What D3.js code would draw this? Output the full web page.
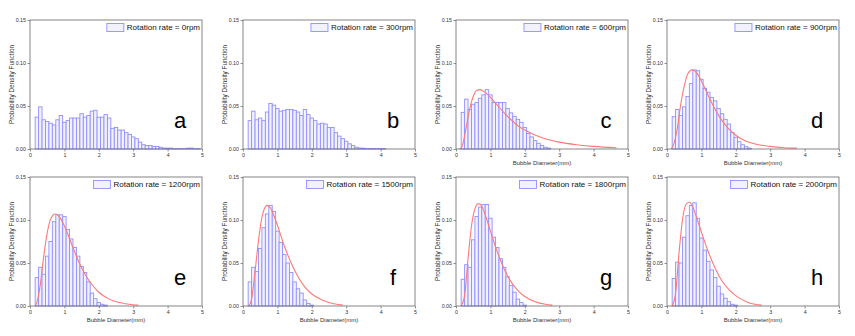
<!DOCTYPE html>
<html><head><meta charset="utf-8">
<script src="https://cdn.jsdelivr.net/npm/d3@7"></script>
<style>
html,body{margin:0;padding:0;background:#fff;}
svg{display:block;}
text{font-family:"Liberation Sans",Arial,sans-serif;}
</style></head>
<body><svg id="chart" width="855" height="336"></svg>
<script>
// ---- data ----
const panelLetters = ["a","b","c","d","e","f","g","h"];
const rotationRates = ["0rpm","300rpm","600rpm","900rpm","1200rpm","1500rpm","1800rpm","2000rpm"];
const xTicks = [0,1,2,3,4,5];
const yTicks = [0.00,0.05,0.10,0.15];
const binCenters = [0.2,0.3,0.4,0.5,0.6,0.7,0.8,0.9,1.0,1.1,1.2,1.3,1.4,1.5,1.6,1.7,1.8,1.9,2.0,2.1,2.2,2.3,2.4,2.5,2.6,2.7,2.8,2.9,3.0,3.1,3.2,3.3,3.4,3.5,3.6,3.7,3.8,3.9,4.0,4.1,4.2,4.3,4.4,4.5,4.6,4.7,4.8,4.9];
const binWidth = 0.1;

const pdfA = [0.037,0.049,0.034,0.032,0.030,0.028,0.034,0.039,0.031,0.033,0.036,0.036,0.036,0.041,0.037,0.039,0.044,0.045,0.037,0.037,0.040,0.036,0.024,0.025,0.022,0.022,0.019,0.017,0.014,0.012,0.008,0.005,0.004,0.004,0.003,0.003,0.002,0.001,0.001,0.001,0.0005,0.0005,0.0005,0.0005,0.001,0.001,0.0005,0.0005];
const pdfB = [0.033,0.044,0.034,0.036,0.033,0.043,0.053,0.051,0.047,0.044,0.045,0.046,0.046,0.045,0.043,0.039,0.046,0.040,0.036,0.033,0.029,0.030,0.029,0.025,0.025,0.019,0.015,0.012,0.009,0.006,0.004,0.002,0.001,0.001,0.0005,0.0005,0.0005,0.0005,0.0005,0.0005];
const pdfC = [0.0426,0.058,0.046,0.052,0.054,0.059,0.063,0.069,0.063,0.054,0.054,0.054,0.054,0.047,0.042,0.038,0.0345,0.031,0.025,0.018,0.014,0.0097,0.0066,0.004,0.002,0.001];
const pdfD = [0.0376,0.046,0.039,0.049,0.061,0.076,0.092,0.091,0.081,0.0705,0.066,0.060,0.056,0.047,0.041,0.0345,0.029,0.019,0.0136,0.0085,0.005,0.0027,0.001];
const pdfE = [0.033,0.045,0.037,0.058,0.075,0.098,0.106,0.106,0.104,0.089,0.078,0.068,0.058,0.046,0.039,0.028,0.015,0.0085,0.004,0.002,0.001];
const pdfF = [0.028,0.045,0.040,0.067,0.091,0.107,0.117,0.110,0.087,0.074,0.060,0.050,0.039,0.028,0.020,0.015,0.007,0.003,0.001];
const pdfG = [0.031,0.048,0.045,0.077,0.104,0.115,0.118,0.118,0.102,0.080,0.068,0.055,0.045,0.034,0.024,0.016,0.008,0.004,0.001];
const pdfH = [0.032,0.051,0.050,0.080,0.105,0.117,0.120,0.102,0.079,0.065,0.052,0.042,0.033,0.023,0.014,0.009,0.005,0.002,0.001];

const fitCX = [0.10,0.15,0.2,0.3,0.4,0.5,0.6,0.7,0.8,0.9,1.0,1.2,1.4,1.6,1.8,2.0,2.5,3.0,3.5,4.0,4.66];
const fitCY = [0,0.001,0.006,0.026,0.047,0.061,0.068,0.069,0.067,0.064,0.060,0.051,0.042,0.034,0.027,0.022,0.013,0.008,0.005,0.003,0.0015];
const fitDX = [0.12,0.2,0.3,0.4,0.5,0.6,0.73,0.85,1.0,1.2,1.4,1.6,1.8,2.0,2.3,2.6,3.0,3.4,3.77];
const fitDY = [0,0.006,0.024,0.052,0.073,0.087,0.092,0.089,0.079,0.062,0.046,0.033,0.023,0.016,0.009,0.0055,0.003,0.0015,0.001];
const fitEX = [0.15,0.2,0.3,0.4,0.5,0.6,0.73,0.85,1.0,1.2,1.4,1.6,1.8,2.0,2.3,2.6,3.0,3.15];
const fitEY = [0,0.004,0.025,0.058,0.085,0.101,0.107,0.104,0.093,0.073,0.053,0.037,0.025,0.016,0.008,0.004,0.0015,0.001];
const fitFX = [0.17,0.25,0.35,0.45,0.55,0.62,0.7,0.8,0.9,1.0,1.2,1.4,1.6,1.8,2.0,2.3,2.6,2.9];
const fitFY = [0,0.008,0.040,0.076,0.103,0.113,0.117,0.114,0.105,0.094,0.070,0.050,0.034,0.022,0.014,0.007,0.003,0.001];
const fitGX = [0.15,0.25,0.35,0.45,0.55,0.65,0.75,0.85,1.0,1.2,1.4,1.6,1.8,2.0,2.3,2.6,2.8];
const fitGY = [0,0.012,0.055,0.093,0.113,0.119,0.116,0.106,0.087,0.063,0.043,0.028,0.018,0.011,0.005,0.002,0.001];
const fitHX = [0.15,0.25,0.35,0.45,0.55,0.65,0.75,0.85,1.0,1.2,1.4,1.6,1.8,2.0,2.3,2.55,2.75];
const fitHY = [0,0.015,0.062,0.100,0.118,0.121,0.115,0.104,0.086,0.063,0.044,0.029,0.019,0.012,0.005,0.002,0.001];

const pdfs = [pdfA,pdfB,pdfC,pdfD,pdfE,pdfF,pdfG,pdfH];
const fitsX = [null,null,fitCX,fitDX,fitEX,fitFX,fitGX,fitHX];
const fitsY = [null,null,fitCY,fitDY,fitEY,fitFY,fitGY,fitHY];
const showXLabel = [false,false,true,true,true,true,true,true];

// ---- layout ----
const colLeft = [30,243,456,667];
const rowTop = [20,177];
const plotW = 172, plotH = 129;

const svg = d3.select("#chart");

pdfs.forEach((vals, i) => {
  const col = i % 4, row = Math.floor(i / 4);
  const L = colLeft[col], T = rowTop[row];
  const x = d3.scaleLinear().domain([0,5]).range([L, L+plotW]);
  const y = d3.scaleLinear().domain([0,0.15]).range([T+plotH, T]);
  const g = svg.append("g");

  // bars
  g.selectAll("rect.bar").data(vals).enter().append("rect")
    .attr("x", (d,j) => x(binCenters[j]-binWidth/2))
    .attr("width", (d,j) => x(binCenters[j]+binWidth/2) - x(binCenters[j]-binWidth/2))
    .attr("y", d => y(d))
    .attr("height", d => y(0) - y(d))
    .attr("fill", "#f1f1ff")
    .attr("stroke", "#9090ff")
    .attr("stroke-width", 0.9);

  // fit
  if (fitsX[i]) {
    const pts = fitsX[i].map((xv,k) => [xv, fitsY[i][k]]);
    g.append("path").datum(pts)
      .attr("d", d3.line().x(d => x(d[0])).y(d => y(d[1])).curve(d3.curveMonotoneX))
      .attr("fill","none").attr("stroke","#ff7878").attr("stroke-width",1.1);
  }

  // frame
  g.append("rect").attr("x", L).attr("y", T).attr("width", plotW).attr("height", plotH)
    .attr("fill","none").attr("stroke","#666").attr("stroke-width",0.8);

  // axes
  const ax = g.append("g").attr("transform", `translate(0,${T+plotH})`)
    .call(d3.axisBottom(x).tickValues(xTicks).tickSize(2.5).tickPadding(2).tickFormat(d3.format("d")));
  const ay = g.append("g").attr("transform", `translate(${L},0)`)
    .call(d3.axisLeft(y).tickValues(yTicks).tickSize(2.5).tickPadding(1.5).tickFormat(d3.format(".2f")));
  [ax, ay].forEach(a => {
    a.select(".domain").remove();
    a.selectAll("line").attr("stroke","#666").attr("stroke-width",0.7);
    a.selectAll("text").attr("font-size","5.3px").attr("fill","#333")
      .attr("font-family","'Liberation Sans',Arial,sans-serif");
  });

  // y label
  g.append("text")
    .attr("transform", `translate(${L-16},${T+plotH/2}) rotate(-90)`)
    .attr("text-anchor","middle").attr("font-size","6.4px").attr("fill","#333")
    .text("Probability Density Function");

  if (showXLabel[i]) {
    g.append("text").attr("x", L+plotW/2).attr("y", T+plotH+16)
      .attr("text-anchor","middle").attr("font-size","6px").attr("fill","#333")
      .text("Bubble Diameter(mm)");
  }

  // legend
  const lt = g.append("text").attr("x", L+plotW-2).attr("y", T+10)
    .attr("text-anchor","end").attr("font-size","8px").attr("fill","#111")
    .text("Rotation rate = " + rotationRates[i]);
  const bb = lt.node().getBBox();
  g.append("rect").attr("x", bb.x-20).attr("y", T+3.5).attr("width",17).attr("height",8)
    .attr("fill","#f1f1ff").attr("stroke","#9090ff").attr("stroke-width",0.9);

  // panel letter
  g.append("text").attr("x", L+plotW-22).attr("y", T+plotH-21)
    .attr("text-anchor","middle").attr("font-size","22px").attr("fill","#000")
    .text(panelLetters[i]);
});
</script>
</body></html>
